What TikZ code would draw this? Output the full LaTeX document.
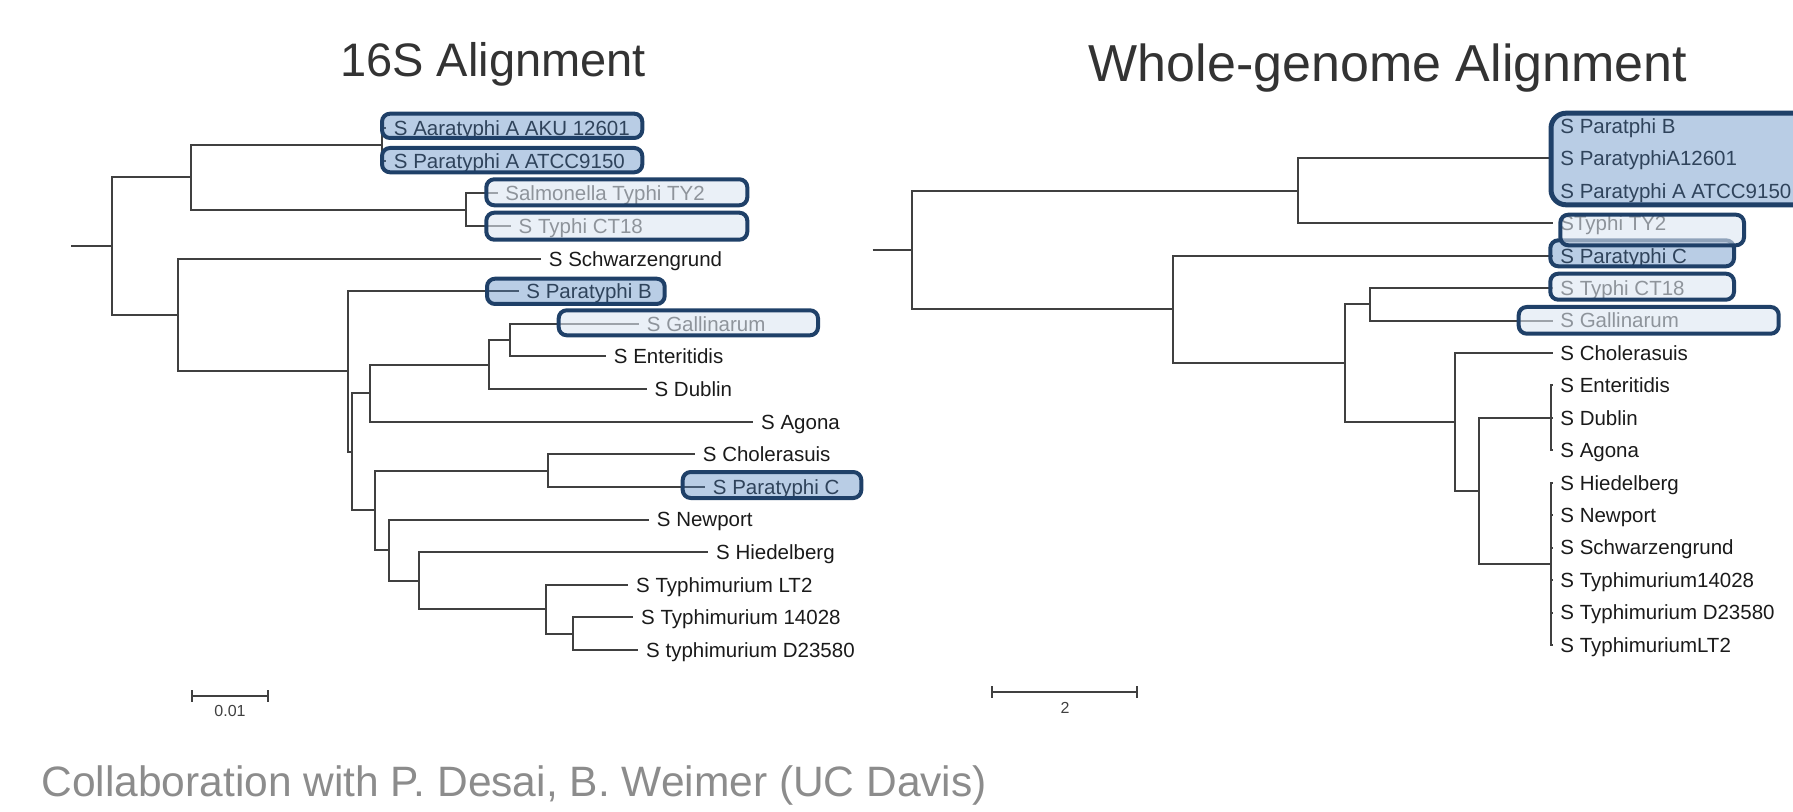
\documentclass[tikz,border=0pt]{standalone}
\usepackage{fontspec}
\setmainfont{Liberation Sans}
\definecolor{boxc}{HTML}{1F4068}
\definecolor{darkfill}{HTML}{4F81BD}
\definecolor{lightfill}{HTML}{DCE6F2}
\definecolor{brc}{HTML}{404040}
\definecolor{leafc}{HTML}{1A1A1A}
\definecolor{titlec}{HTML}{333333}
\definecolor{footc}{HTML}{8C8C8C}
\tikzset{
  br/.style={draw=brc, line width=1pt},
  leaf/.style={anchor=west, inner xsep=3.75pt, inner ysep=0pt, text height=7.34pt, text depth=0pt,
    font=\fontsize{10.25}{12}\selectfont, text=leafc},
  hdark/.style={draw=boxc, line width=2pt, rounded corners=4pt, fill=darkfill, fill opacity=0.4},
  hlight/.style={draw=boxc, line width=2pt, rounded corners=4pt, fill=lightfill, fill opacity=0.6},
  scalelab/.style={font=\fontsize{8}{9.6}\selectfont, text=brc, inner sep=0pt},
}
\begin{document}
\begin{tikzpicture}[x=0.5pt,y=-0.5pt]
\useasboundingbox (0,0) rectangle (1793,812);
\clip (0,0) rectangle (1793,812);
% titles
\node[anchor=base, font=\fontsize{23.5}{28}\selectfont, text=titlec, inner sep=0pt] (t1) at (493,76.6) {16S Alignment};
\node[anchor=base, font=\fontsize{26}{31}\selectfont, text=titlec, inner sep=0pt] (t2) at (1388,82) {Whole-genome Alignment};
\node[anchor=base west, font=\fontsize{21.25}{25}\selectfont, text=footc, inner sep=0pt] (ft) at (41,796) {Collaboration with P. Desai, B. Weimer (UC Davis)};

% ---------- left tree ----------
\coordinate (r0) at (71,246.15);
\coordinate (r) at (112,246.15);
\coordinate (n1) at (190.7,177.2);
\coordinate (nA) at (381.7,144.6);
\coordinate (nT) at (466,209.8);
\coordinate (n2) at (178.3,315.1);
\coordinate (n3) at (347.7,371.5);
\coordinate (n4) at (352.3,451.75);
\coordinate (n5) at (370,393.2);
\coordinate (n6) at (489,364.65);
\coordinate (n7) at (510,340.2);
\coordinate (n8) at (375,510.3);
\coordinate (n9) at (547.7,470.6);
\coordinate (n10) at (389.3,550.05);
\coordinate (n11) at (419.3,580.6);
\coordinate (n12) at (545.7,609.15);
\coordinate (n13) at (573.3,633.6);

\node[leaf] (a1) at (386,128.3) {S Aaratyphi A AKU 12601};
\node[leaf] (a2) at (386,160.9) {S Paratyphi A ATCC9150};
\node[leaf] (a3) at (497.5,193.5) {Salmonella Typhi TY2};
\node[leaf] (a4) at (510.8,226.1) {S Typhi CT18};
\node[leaf] (a5) at (541,258.7) {S Schwarzengrund};
\node[leaf] (a6) at (518.5,291.3) {S Paratyphi B};
\node[leaf] (a7) at (639,323.9) {S Gallinarum};
\node[leaf] (a8) at (606,356.5) {S Enteritidis};
\node[leaf] (a9) at (646.7,389.1) {S Dublin};
\node[leaf] (a10) at (753.3,421.7) {S Agona};
\node[leaf] (a11) at (695,454.3) {S Cholerasuis};
\node[leaf] (a12) at (705,486.9) {S Paratyphi C};
\node[leaf] (a13) at (649,519.5) {S Newport};
\node[leaf] (a14) at (708.3,552.1) {S Hiedelberg};
\node[leaf] (a15) at (628.3,584.7) {S Typhimurium LT2};
\node[leaf] (a16) at (633.3,617.3) {S Typhimurium 14028};
\node[leaf] (a17) at (638.3,649.9) {S typhimurium D23580};

\draw[br] (r0) -- (r);
\draw[br] (r) |- (n1);
\draw[br] (r) |- (n2);
\draw[br] (n1) |- (nA);
\draw[br] (n1) |- (nT);
\draw[br] (nA) |- (a1.west);
\draw[br] (nA) |- (a2.west);
\draw[br] (nT) |- (a3.west);
\draw[br] (nT) |- (a4.west);
\draw[br] (n2) |- (a5.west);
\draw[br] (n2) |- (n3);
\draw[br] (n3) |- (a6.west);
\draw[br] (n3) |- (n4);
\draw[br] (n4) |- (n5);
\draw[br] (n4) |- (n8);
\draw[br] (n5) |- (n6);
\draw[br] (n5) |- (a10.west);
\draw[br] (n6) |- (n7);
\draw[br] (n6) |- (a9.west);
\draw[br] (n7) |- (a7.west);
\draw[br] (n7) |- (a8.west);
\draw[br] (n8) |- (n9);
\draw[br] (n8) |- (n10);
\draw[br] (n9) |- (a11.west);
\draw[br] (n9) |- (a12.west);
\draw[br] (n10) |- (a13.west);
\draw[br] (n10) |- (n11);
\draw[br] (n11) |- (a14.west);
\draw[br] (n11) |- (n12);
\draw[br] (n12) |- (a15.west);
\draw[br] (n12) |- (n13);
\draw[br] (n13) |- (a16.west);
\draw[br] (n13) |- (a17.west);

% left highlight boxes
\draw[hdark] (382,113.7) rectangle (642.3,138);
\draw[hdark] (382,148) rectangle (642.3,172.3);
\draw[hlight] (486.3,179.3) rectangle (747.3,205.3);
\draw[hlight] (486.3,212.7) rectangle (747.3,239.7);
\draw[hdark] (487,278.7) rectangle (664.7,304);
\draw[hlight] (558.7,310.3) rectangle (818,335.3);
\draw[hdark] (682.7,472) rectangle (861.3,498);

% left scale bar
\coordinate (s1a) at (191.7,696);
\coordinate (s1b) at (268.3,696);
\draw[br] (s1a) -- (s1b);
\draw[br] ([yshift=3pt]s1a) -- ([yshift=-3pt]s1a);
\draw[br] ([yshift=3pt]s1b) -- ([yshift=-3pt]s1b);
\node[scalelab] (s1l) at (230,710.7) {0.01};

% ---------- right tree ----------
\coordinate (q0) at (872.7,250.1);
\coordinate (q) at (911.7,250.1);
\coordinate (m1) at (1297.7,190.85);
\coordinate (mA) at (1550.7,158.4);
\coordinate (m2) at (1173.3,309.4);
\coordinate (m3) at (1345,363.15);
\coordinate (m4) at (1370,304.4);
\coordinate (m5) at (1455,421.9);
\coordinate (m6) at (1479.3,490.85);
\coordinate (m7) at (1550.7,417.9);
\coordinate (m8) at (1550.7,563.8);

\node[leaf] (b1) at (1552.5,126) {S Paratphi B};
\node[leaf] (b2) at (1552.5,158.4) {S ParatyphiA12601};
\node[leaf] (b3) at (1552.5,190.9) {S Paratyphi A ATCC9150};
\node[leaf] (b4) at (1552.5,223.3) {STyphi TY2};
\node[leaf] (b5) at (1552.5,255.7) {S Paratyphi C};
\node[leaf] (b6) at (1552.5,288.2) {S Typhi CT18};
\node[leaf] (b7) at (1552.5,320.6) {S Gallinarum};
\node[leaf] (b8) at (1552.5,353) {S Cholerasuis};
\node[leaf] (b9) at (1552.5,385.4) {S Enteritidis};
\node[leaf] (b10) at (1552.5,417.9) {S Dublin};
\node[leaf] (b11) at (1552.5,450.3) {S Agona};
\node[leaf] (b12) at (1552.5,482.7) {S Hiedelberg};
\node[leaf] (b13) at (1552.5,515.2) {S Newport};
\node[leaf] (b14) at (1552.5,547.6) {S Schwarzengrund};
\node[leaf] (b15) at (1552.5,580) {S Typhimurium14028};
\node[leaf] (b16) at (1552.5,612.5) {S Typhimurium D23580};
\node[leaf] (b17) at (1552.5,644.9) {S TyphimuriumLT2};

\draw[br] (q0) -- (q);
\draw[br] (q) |- (m1);
\draw[br] (q) |- (m2);
\draw[br] (m1) |- (mA);
\draw[br] (m1) |- (b4.west);
\draw[br] (mA) |- (b1.west);
\draw[br] (mA) |- (b2.west);
\draw[br] (mA) |- (b3.west);
\draw[br] (m2) |- (b5.west);
\draw[br] (m2) |- (m3);
\draw[br] (m3) |- (m4);
\draw[br] (m3) |- (m5);
\draw[br] (m4) |- (b6.west);
\draw[br] (m4) |- (b7.west);
\draw[br] (m5) |- (b8.west);
\draw[br] (m5) |- (m6);
\draw[br] (m6) |- (m7);
\draw[br] (m6) |- (m8);
\draw[br] (m7) |- (b9.west);
\draw[br] (m7) |- (b10.west);
\draw[br] (m7) |- (b11.west);
\draw[br] (m8) |- (b12.west);
\draw[br] (m8) |- (b13.west);
\draw[br] (m8) |- (b14.west);
\draw[br] (m8) |- (b15.west);
\draw[br] (m8) |- (b16.west);
\draw[br] (m8) |- (b17.west);

% right highlight boxes
\draw[hdark, line width=2.5pt, rounded corners=7.5pt] (1551,113.2) rectangle (1815,204.8);
\draw[hdark] (1550.3,240.3) rectangle (1734,266.3);
\draw[hlight] (1560.3,214.7) rectangle (1744,245.3);
\draw[hlight] (1550.3,273.7) rectangle (1734,299.7);
\draw[hlight] (1518.7,307) rectangle (1778.7,333.7);

% right scale bar
\coordinate (s2a) at (991.7,692.3);
\coordinate (s2b) at (1136.7,692.3);
\draw[br] (s2a) -- (s2b);
\draw[br] ([yshift=3pt]s2a) -- ([yshift=-3pt]s2a);
\draw[br] ([yshift=3pt]s2b) -- ([yshift=-3pt]s2b);
\node[scalelab] (s2l) at (1065,708.3) {2};
\end{tikzpicture}
\end{document}
